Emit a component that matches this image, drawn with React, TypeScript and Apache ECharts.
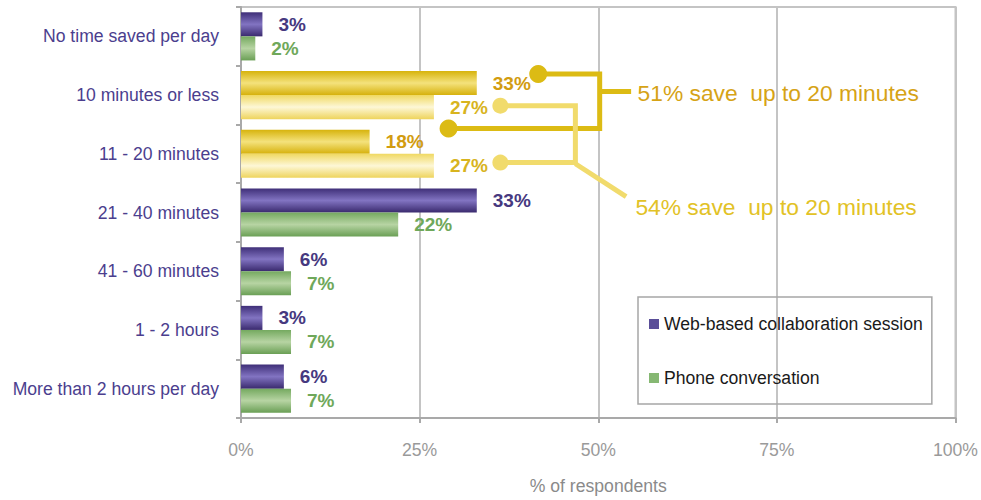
import React, { useEffect, useRef } from 'react';
import * as echarts from 'echarts';

const categories = [
  'No time saved per day',
  '10 minutes or less',
  '11 - 20 minutes',
  '21 - 40 minutes',
  '41 - 60 minutes',
  '1 - 2 hours',
  'More than 2 hours per day',
];
const seriesNames = ['Web-based collaboration session', 'Phone conversation'];
const webValues = [3, 33, 18, 33, 6, 3, 6];
const phoneValues = [2, 27, 27, 22, 7, 7, 7];
const highlightedCats = [1, 2];
const xTickValues = [0, 25, 50, 75, 100];
const axisTitle = '% of respondents';
const annotationTexts = ['51% save  up to 20 minutes', '54% save  up to 20 minutes'];

const FONT = '"Liberation Sans", Arial, Helvetica, sans-serif';

const grad = (edge: string, mid: string, edge2?: string) =>
  new echarts.graphic.LinearGradient(0, 0, 0, 1, [
    { offset: 0, color: edge },
    { offset: 0.5, color: mid },
    { offset: 1, color: edge2 || edge },
  ]);

export default function App() {
  const ref = useRef<HTMLDivElement>(null);
  useEffect(() => {
    if (!ref.current) return;
    const chart = echarts.init(ref.current, undefined, { renderer: 'svg' });

    const purpleGrad = grad('#3f2f78', '#8274c2', '#3a2a6e');
    const greenGrad = grad('#74a95f', '#b7d4a3', '#6a9f55');
    const goldGrad = grad('#d7b30c', '#f4e27c', '#d6b10c');
    const lightGrad = grad('#f0d962', '#fdf7d6', '#eed45c');

    const labelBase = {
      show: true,
      position: 'right',
      distance: 16,
      formatter: '{c}%',
      fontSize: 19,
      fontWeight: 'bold',
      fontFamily: FONT,
    };

    const webData = webValues.map((v, i) => {
      const hi = highlightedCats.includes(i);
      return {
        value: v,
        itemStyle: { color: hi ? goldGrad : purpleGrad },
        label: { color: hi ? '#d29c10' : '#46397f' },
      };
    });
    const phoneData = phoneValues.map((v, i) => {
      const hi = highlightedCats.includes(i);
      return {
        value: v,
        itemStyle: { color: hi ? lightGrad : greenGrad },
        label: { color: hi ? '#d8b41e' : '#6fa85a' },
      };
    });

    chart.setOption({
      animation: false,
      backgroundColor: '#ffffff',
      grid: {
        left: 241,
        right: 24,
        top: 7,
        bottom: 80,
        show: true,
        borderColor: '#c4c4c4',
        borderWidth: 2,
        containLabel: false,
      },
      legend: {
        orient: 'vertical',
        left: 638,
        top: 297,
        padding: [18, 9, 17, 11],
        itemGap: 36,
        itemWidth: 10,
        itemHeight: 10,
        icon: 'rect',
        borderColor: '#a6a6a6',
        borderWidth: 1.5,
        textStyle: { color: '#1a1a1a', fontSize: 17.6, fontFamily: FONT },
        data: [
          { name: seriesNames[0], itemStyle: { color: '#5a4e98' } },
          { name: seriesNames[1], itemStyle: { color: '#86b873' } },
        ],
      },
      xAxis: {
        type: 'value',
        min: xTickValues[0],
        max: xTickValues[xTickValues.length - 1],
        interval: xTickValues[1] - xTickValues[0],
        name: axisTitle,
        nameLocation: 'middle',
        nameGap: 59,
        nameTextStyle: { color: '#8a8a8a', fontSize: 17.6, fontFamily: FONT },
        axisLine: { show: true, lineStyle: { color: '#a9a9a9', width: 2 } },
        axisTick: { show: true, length: 5, lineStyle: { color: '#a9a9a9', width: 2 } },
        axisLabel: {
          formatter: '{value}%',
          color: '#9a9a9a',
          fontSize: 17.6,
          fontFamily: FONT,
          margin: 23,
        },
        splitLine: { show: true, lineStyle: { color: '#c4c4c4', width: 2 } },
      },
      yAxis: {
        type: 'category',
        inverse: true,
        data: categories,
        axisLine: { show: true, lineStyle: { color: '#a9a9a9', width: 2 } },
        axisTick: { show: true, length: 5, lineStyle: { color: '#a9a9a9', width: 2 } },
        axisLabel: { color: '#4b3e8e', fontSize: 17.6, fontFamily: FONT, margin: 22 },
        splitLine: { show: false },
      },
      series: [
        {
          name: seriesNames[0],
          type: 'bar',
          barGap: '0%',
          barCategoryGap: '18%',
          data: webData,
          label: labelBase,
        },
        {
          name: seriesNames[1],
          type: 'bar',
          barGap: '0%',
          barCategoryGap: '18%',
          data: phoneData,
          label: labelBase,
        },
      ],
    });

    // annotations positioned through the axes
    const xp = (v: number) => chart.convertToPixel({ xAxisIndex: 0 }, v) as number;
    const y0 = chart.convertToPixel({ yAxisIndex: 0 }, categories[0]) as number;
    const y1 = chart.convertToPixel({ yAxisIndex: 0 }, categories[1]) as number;
    const band = y1 - y0;
    const yp = (c: number) => y0 + c * band;
    const pt = (x: number, c: number) => [xp(x), yp(c)];

    const dark = '#dcbb14';
    const light = '#f1db6c';

    chart.setOption({
      graphic: [
        {
          type: 'polyline',
          shape: { points: [pt(41.6, 0.64), pt(50.2, 0.64), pt(50.2, 1.57), pt(29.05, 1.57)] },
          style: { stroke: dark, lineWidth: 5, fill: null, lineJoin: 'miter' },
        },
        {
          type: 'line',
          shape: { x1: xp(50.2), y1: yp(0.94), x2: xp(54.6), y2: yp(0.94) },
          style: { stroke: dark, lineWidth: 5 },
        },
        { type: 'circle', shape: { cx: xp(41.6), cy: yp(0.64), r: 9 }, style: { fill: dark } },
        { type: 'circle', shape: { cx: xp(29.05), cy: yp(1.57), r: 9 }, style: { fill: dark } },
        {
          type: 'text',
          x: xp(55.5),
          y: yp(0.94) + 1,
          style: {
            text: annotationTexts[0],
            fill: '#d6a316',
            fontSize: 22.8,
            fontFamily: FONT,
            verticalAlign: 'middle',
            align: 'left',
          },
        },
        {
          type: 'polyline',
          shape: { points: [pt(36.3, 1.18), pt(46.8, 1.18), pt(46.8, 2.15), pt(36.3, 2.15)] },
          style: { stroke: light, lineWidth: 5, fill: null, lineJoin: 'miter' },
        },
        {
          type: 'line',
          shape: { x1: xp(46.8), y1: yp(2.17), x2: xp(53.9), y2: yp(2.73) },
          style: { stroke: light, lineWidth: 5 },
        },
        { type: 'circle', shape: { cx: xp(36.3), cy: yp(1.18), r: 8 }, style: { fill: light } },
        { type: 'circle', shape: { cx: xp(36.3), cy: yp(2.15), r: 8 }, style: { fill: light } },
        {
          type: 'text',
          x: xp(55.2),
          y: yp(2.9),
          style: {
            text: annotationTexts[1],
            fill: '#e2c226',
            fontSize: 22.8,
            fontFamily: FONT,
            verticalAlign: 'middle',
            align: 'left',
          },
        },
      ],
    });

    return () => chart.dispose();
  }, []);

  return (
    <div
      ref={ref}
      style={{ position: 'fixed', left: 0, top: 0, width: 981, height: 500 }}
    />
  );
}
